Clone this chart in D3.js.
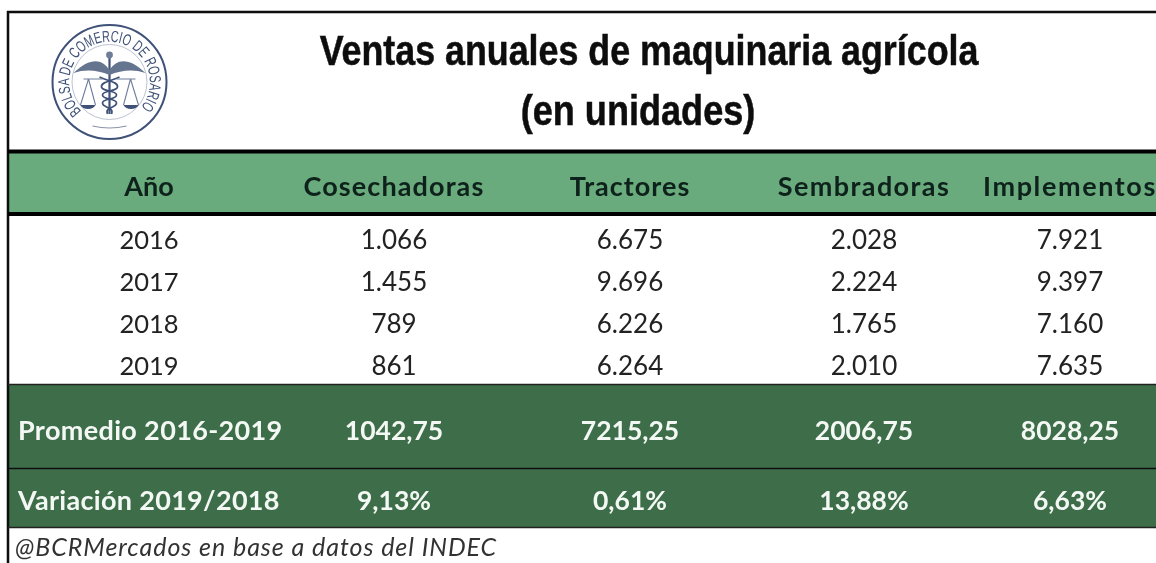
<!DOCTYPE html>
<html>
<head>
<meta charset="utf-8">
<script src="https://cdn.jsdelivr.net/npm/d3@7"></script>
<style>
  html, body { margin: 0; padding: 0; background: #fff; }
  svg { display: block; }
  text { font-family: Lato, "Open Sans", sans-serif; }
</style>
</head>
<body>
<div id="chart"></div>
<script>
// table contents
const columns = ["Año", "Cosechadoras", "Tractores", "Sembradoras", "Implementos"];
const years = [2016, 2017, 2018, 2019];
const cosechadoras = [1066, 1455, 789, 861];
const tractores = [6675, 9696, 6226, 6264];
const sembradoras = [2028, 2224, 1765, 2010];
const implementos = [7921, 9397, 7160, 7635];
const promedio = [1042.75, 7215.25, 2006.75, 8028.25];
const variacion = [9.13, 0.61, 13.88, 6.63];
const titleLines = ["Ventas anuales de maquinaria agrícola", "(en unidades)"];
const promedioLabel = "Promedio 2016-2019";
const variacionLabel = "Variación 2019/2018";
const sourceNote = "@BCRMercados en base a datos del INDEC";
const logoText = "BOLSA DE COMERCIO DE ROSARIO";

const width = 1156, height = 563;
const series = [cosechadoras, tractores, sembradoras, implementos];

const es = d3.formatLocale({decimal: ",", thousands: ".", grouping: [3], currency: ["$", ""]});
const fmtInt = es.format(",d");
const fmtDec = es.format(".2f");
const fmtPct = v => es.format(".2f")(v) + "%";

const svg = d3.select("#chart").append("svg")
  .attr("width", width)
  .attr("height", height);

// slight softening, the source is an upscaled screenshot
const defs = svg.append("defs");
defs.append("filter").attr("id", "soft")
  .append("feGaussianBlur").attr("stdDeviation", 0.45);
defs.append("filter").attr("id", "softer")
  .append("feGaussianBlur").attr("stdDeviation", 0.7);

// column centres are uneven in the sheet
const x = d3.scaleOrdinal()
  .domain(columns)
  .range([149, 394, 630, 864, 1070]);

const headSpacing = d3.scaleOrdinal()
  .domain(columns)
  .range(["0px", "1.1px", "1px", "1.4px", "1.6px"]);

const y = d3.scaleBand()
  .domain(years)
  .range([219, 387]);

const root = svg.append("g").attr("filter", "url(#soft)");

// bands
root.append("rect").attr("x", 8).attr("y", 152).attr("width", width - 8).attr("height", 62)
  .attr("fill", "#69ab7b");
root.append("rect").attr("x", 8).attr("y", 385).attr("width", width - 8).attr("height", 142)
  .attr("fill", "#3c6e49");

// rules
const rule = (x1, y1, x2, y2, w, c) => root.append("line")
  .attr("x1", x1).attr("y1", y1).attr("x2", x2).attr("y2", y2)
  .attr("stroke", c || "#000").attr("stroke-width", w);
rule(7, 12, width, 12, 2.5, "#111");
rule(8, 11, 8, height, 2.5, "#111");
rule(8, 151.5, width, 151.5, 4);
rule(8, 214, width, 214, 4);
rule(8, 384.5, width, 384.5, 1.5, "#222");
rule(8, 468.5, width, 468.5, 1.5, "#111");
rule(8, 527.5, width, 527.5, 1.5, "#222");

// title, squeezed since no narrow bold face is installed
root.selectAll(".title")
  .data(titleLines)
  .enter()
  .append("text")
  .attr("class", "title")
  .attr("transform", (d, i) => i === 0 ? "translate(649,65) scale(0.853,1)" : "translate(638,125) scale(0.86,1)")
  .attr("text-anchor", "middle")
  .attr("fill", "#0c0c0c")
  .attr("stroke", "#0c0c0c")
  .attr("stroke-width", 0.5)
  .style("font-family", '"Liberation Sans", sans-serif')
  .style("font-weight", 700)
  .style("font-size", "42px")
  .text(d => d);

// header row
root.selectAll(".head")
  .data(columns)
  .enter()
  .append("text")
  .attr("class", "head")
  .attr("x", d => x(d))
  .attr("y", 196)
  .attr("text-anchor", "middle")
  .attr("fill", "#10201a")
  .style("font-weight", 700)
  .style("font-size", "27px")
  .style("letter-spacing", d => headSpacing(d))
  .text(d => d);

// year rows
const rows = root.selectAll(".row")
  .data(years)
  .enter()
  .append("g")
  .attr("class", "row")
  .attr("transform", d => `translate(0,${y(d) + y.bandwidth() / 2 + 9})`);

rows.append("text")
  .attr("x", x(columns[0]))
  .attr("text-anchor", "middle")
  .attr("fill", "#222")
  .style("font-size", "25.5px")
  .text(d => d);

series.forEach((s, c) => {
  rows.append("text")
    .attr("x", x(columns[c + 1]))
    .attr("text-anchor", "middle")
    .attr("fill", "#222")
    .style("font-size", "26px")
    .text((d, i) => fmtInt(s[i]));
});

// summary rows
function summary(label, values, fmt, baseline, spacing) {
  root.append("text")
    .attr("x", 18).attr("y", baseline)
    .attr("fill", "#f4f8f4")
    .style("font-weight", 700)
    .style("font-size", "27px")
    .style("letter-spacing", spacing)
    .text(label);
  root.selectAll(null)
    .data(values)
    .enter()
    .append("text")
    .attr("x", (d, i) => x(columns[i + 1]))
    .attr("y", baseline)
    .attr("text-anchor", "middle")
    .attr("fill", "#f4f8f4")
    .style("font-weight", 700)
    .style("font-size", "26.5px")
    .text(d => fmt(d));
}
summary(promedioLabel, promedio, fmtDec, 440, "0.35px");
summary(variacionLabel, variacion, fmtPct, 510, "0.3px");

// source note
root.append("text")
  .attr("x", 15).attr("y", 556)
  .attr("fill", "#333")
  .style("font-style", "italic")
  .style("font-size", "25px")
  .style("letter-spacing", "0.95px")
  .text(sourceNote);

// seal
const logo = svg.append("g")
  .attr("transform", "translate(109.5,82)")
  .attr("filter", "url(#softer)");
const ink = "#3f5178";
logo.append("circle").attr("r", 57).attr("fill", "none").attr("stroke", ink).attr("stroke-width", 2);
logo.append("circle").attr("r", 37.5).attr("fill", "none").attr("stroke", "#aab2c4").attr("stroke-width", 0.8);
defs.append("path").attr("id", "sealArc")
  .attr("d", "M -28 29 A 40.3 40.3 0 1 1 28 29");
logo.append("text")
  .style("font-size", "16px")
  .style("font-family", '"Liberation Sans", sans-serif')
  .attr("fill", ink)
  .append("textPath")
  .attr("href", "#sealArc")
  .attr("startOffset", "0")
  .attr("textLength", 186)
  .attr("lengthAdjust", "spacingAndGlyphs")
  .text(logoText);
// staff and head
logo.append("line").attr("x1", 0).attr("y1", -28).attr("x2", 0).attr("y2", 32).attr("stroke", ink).attr("stroke-width", 2.2);
logo.append("circle").attr("cy", -27).attr("r", 3.4).attr("fill", "#6f7d99");
// wings
logo.append("path").attr("fill", "#66748f")
  .attr("d", "M0 -12 C-8 -24 -20 -24 -36 -9 C-24 -13 -12 -12 0 -7 C12 -12 24 -13 36 -9 C20 -24 8 -24 0 -12Z");
// serpent
logo.append("path").attr("fill", "none").attr("stroke", ink).attr("stroke-width", 1.7)
  .attr("d", "M-10 -5 C-2 -1 9 0 8 5 C7 10 -7 8 -7 13 C-7 18 7 16 7 21 C7 26 -5 25 -2 32");
logo.append("path").attr("fill", "none").attr("stroke", ink).attr("stroke-width", 1.7)
  .attr("d", "M10 -5 C2 -1 -9 0 -8 5 C-7 10 7 8 7 13 C7 18 -7 16 -7 21 C-7 26 5 25 2 32");
// scales
[-1, 1].forEach(s => {
  logo.append("path").attr("fill", "none").attr("stroke", "#6f7d99").attr("stroke-width", 1.1)
    .attr("d", `M${s * 7} -3 L${s * 26} -3 M${s * 21} -3 L${s * 14} 23 M${s * 21} -3 L${s * 29} 23`);
  logo.append("path").attr("fill", ink)
    .attr("d", `M${s * 14} 23 L${s * 29} 23 Q${s * 27} 27 ${s * 21.5} 27 Q${s * 16} 27 ${s * 14} 23Z`);
});
// small arc under the caduceus
logo.append("path").attr("fill", "none").attr("stroke", "#8a94a8").attr("stroke-width", 1.2)
  .attr("d", "M-17 44 Q0 48 17 44");
</script>
</body>
</html>
